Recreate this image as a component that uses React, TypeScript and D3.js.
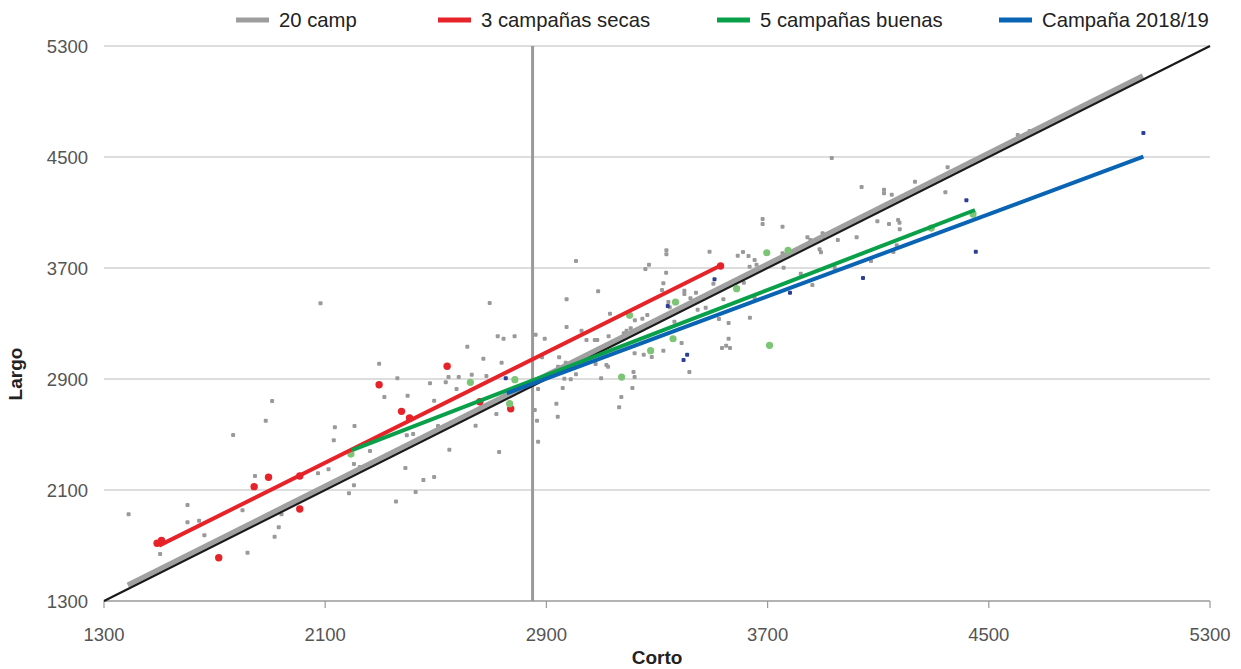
import React from 'react';
import * as d3 from 'd3';

// ---- data (Corto, Largo) ----
const ticks = [1300, 2100, 2900, 3700, 4500, 5300];
const refCorto = 2850;

const seriesNames = ['20 camp', '3 campañas secas', '5 campañas buenas', 'Campaña 2018/19'];
const seriesColors = ['#9d9d9d', '#e52329', '#0aa04a', '#0a64b4'];

const campLine = [[1386, 1415], [5057, 5086]];
const secasLine = [[1499, 1699], [3534, 3722]];
const buenasLine = [[2197, 2388], [4450, 4118]];
const campana1819Line = [[2757, 2797], [5059, 4502]];
const identityLine = [[1300, 1300], [5300, 5300]];

const grayPoints = [
  [1908, 2741], [1885, 2599], [1767, 2496], [2135, 2552], [2131, 2458], [1846, 2201], [2074, 2220], [2112, 2249],
  [1389, 1925], [1602, 1992], [1602, 1867], [1644, 1879], [1663, 1774], [1801, 1954], [1942, 1925], [1932, 1831],
  [1917, 1763], [1819, 1648], [1503, 1639],
  [2614, 3133], [2295, 3010], [2361, 2905], [2546, 2914], [2583, 2914], [2536, 2876], [2479, 2869], [2575, 2828],
  [2314, 2770], [2398, 2780], [2494, 2744], [2206, 2561], [2508, 2561], [2395, 2494], [2418, 2504], [2262, 2381],
  [2549, 2390], [2204, 2287], [2225, 2266], [2390, 2259], [2494, 2194], [2455, 2172], [2204, 2134], [2186, 2076],
  [2427, 2086], [2356, 2018],
  [3007, 3750], [3087, 3532], [2973, 3474], [2695, 3448], [3130, 3371], [3220, 3323], [2973, 3275], [3027, 3248],
  [2724, 3208], [2745, 3190], [2785, 3208], [2861, 3219], [2894, 3190], [3045, 3181], [3075, 3181], [3084, 3181],
  [3125, 3208], [2884, 3056], [2946, 3056], [2672, 3046], [2738, 3017], [2970, 3017], [3219, 3085], [2942, 2989],
  [3078, 3008], [3117, 3001], [3123, 2989], [2630, 2931], [2683, 2922], [3007, 2934], [2965, 2902], [2988, 2898],
  [3098, 2905], [3219, 2914], [3215, 2950], [3211, 2835], [2959, 2835], [2870, 2828], [2936, 2722], [2941, 2628],
  [2858, 2677], [2866, 2599], [2719, 2648], [2644, 2563], [2729, 2374], [2870, 2448], [3171, 2770], [3163, 2696],
  [3682, 4053], [3682, 4017], [3754, 3998], [3954, 3902], [3844, 3921], [3899, 3950], [3888, 3835], [3893, 3813],
  [3490, 3818], [3334, 3828], [3334, 3799], [3592, 3789], [3611, 3815], [3631, 3787], [3653, 3758], [3660, 3724],
  [3635, 3709], [3754, 3806], [3758, 3702], [3271, 3724], [3258, 3693], [3333, 3666], [3820, 3659], [3862, 3577],
  [3323, 3590], [3318, 3541], [3399, 3536], [3399, 3513], [3441, 3522], [3421, 3482], [3540, 3474], [3341, 3455],
  [3346, 3417], [3504, 3587], [3614, 3594], [3653, 3486], [3476, 3414], [3447, 3399], [3265, 3361], [3247, 3335],
  [3363, 3313], [3524, 3332], [3636, 3342], [3559, 3304], [3205, 3265], [3190, 3248], [3180, 3229], [3389, 3159],
  [3559, 3190], [3550, 3140], [3564, 3123], [3535, 3123], [3323, 3104], [3252, 3075], [3281, 3058], [3417, 2950],
  [3932, 4493], [4351, 4426], [4233, 4322], [4040, 4284], [4121, 4264], [4121, 4238], [4149, 4228], [4343, 4246],
  [4097, 4037], [4139, 4017], [4172, 4046], [4177, 4026], [4178, 3979], [3855, 3902], [3900, 3926], [4022, 3921],
  [4167, 3864], [4155, 3815], [4074, 3750], [3943, 3700], [2083, 3446], [4605, 4659], [4648, 4687],
];

const redPoints = [
  [1492, 1716], [1508, 1737], [1715, 1612], [1843, 2124], [1895, 2192], [2008, 2201], [2008, 1963],
  [2541, 2992], [2295, 2859], [2376, 2667], [2405, 2619], [2771, 2686], [2659, 2736], [3530, 3714],
];

const greenPoints = [
  [2193, 2359], [2625, 2876], [2786, 2895], [2767, 2722], [3201, 3359], [3172, 2914], [3697, 3810], [3774, 3828],
  [3588, 3551], [3367, 3455], [3358, 3190], [3277, 3104], [3707, 3143], [4292, 3988], [4443, 4089],
];

const bluePoints = [
  [2753, 2905], [3508, 3619], [3339, 3426], [3781, 3522], [3409, 3075], [3396, 3037], [4419, 4188], [4453, 3818],
  [4045, 3628], [5059, 4673],
];

const FONT = '"Liberation Sans", Arial, Helvetica, sans-serif';

export default function App() {
  const x = d3.scaleLinear().domain([1300, 5300]).range([104, 1210]);
  const y = d3.scaleLinear().domain([1300, 5300]).range([601, 46]);
  const line = d3.line<number[]>().x(d => x(d[0])).y(d => y(d[1]));
  const [x0, x1] = x.range();

  const legendX = [236, 438, 717, 999];

  return (
    <svg width={1241} height={669} style={{ position: 'absolute', left: 0, top: 0, background: '#fff' }}
      fontFamily={FONT}>
      {/* gridlines */}
      {ticks.slice(1).map(t => (
        <line key={'g' + t} x1={x0} x2={x1} y1={y(t)} y2={y(t)} stroke="#d2d2d2" strokeWidth={1.5} />
      ))}
      {/* x axis */}
      <line x1={x0} x2={x1} y1={y(1300)} y2={y(1300)} stroke="#9a9a9a" strokeWidth={1.5} />
      {ticks.map(t => (
        <line key={'t' + t} x1={x(t)} x2={x(t)} y1={y(1300)} y2={y(1300) + 7} stroke="#9a9a9a" strokeWidth={1.2} />
      ))}
      {ticks.map(t => (
        <text key={'xl' + t} x={x(t)} y={640.5} textAnchor="middle" fontSize={18.5} fill="#555">{t}</text>
      ))}
      {ticks.map(t => (
        <text key={'yl' + t} x={88} y={y(t) + 6.5} textAnchor="end" fontSize={18.5} fill="#555">{t}</text>
      ))}
      {/* reference vertical */}
      <line x1={x(refCorto)} x2={x(refCorto)} y1={y(5300)} y2={y(1300)} stroke="#9a9a9a" strokeWidth={3} />

      {/* gray scatter */}
      {grayPoints.map((d, i) => (
        <rect key={'gp' + i} x={x(d[0]) - 2} y={y(d[1]) - 2} width={4} height={4} rx={1} fill="#9a9a9a" />
      ))}
      <path d={line(campLine) || ''} stroke="#a0a0a0" strokeWidth={5} fill="none" />
      <path d={line(identityLine) || ''} stroke="#1a1a1a" strokeWidth={2.2} fill="none" />

      {redPoints.map((d, i) => (
        <circle key={'rp' + i} cx={x(d[0])} cy={y(d[1])} r={3.7} fill="#e52329" />
      ))}
      {greenPoints.map((d, i) => (
        <circle key={'grp' + i} cx={x(d[0])} cy={y(d[1])} r={3.6} fill="#7cc576" />
      ))}
      {bluePoints.map((d, i) => (
        <rect key={'bp' + i} x={x(d[0]) - 2} y={y(d[1]) - 2} width={4} height={4} rx={1} fill="#2b3f94" />
      ))}
      <path d={line(secasLine) || ''} stroke="#e52329" strokeWidth={4} fill="none" />
      <path d={line(buenasLine) || ''} stroke="#0aa04a" strokeWidth={4} fill="none" />
      <path d={line(campana1819Line) || ''} stroke="#0a64b4" strokeWidth={4} fill="none" />

      {/* legend */}
      {seriesNames.map((n, i) => (
        <g key={'lg' + i}>
          <line x1={legendX[i]} x2={legendX[i] + 33} y1={20} y2={20} stroke={seriesColors[i]} strokeWidth={5} />
          <text x={legendX[i] + 43} y={27} fontSize={20.3} fill="#222">{n}</text>
        </g>
      ))}

      {/* axis titles */}
      <text x={(x0 + x1) / 2} y={664} textAnchor="middle" fontSize={19} fontWeight="bold" fill="#222">Corto</text>
      <text transform={`translate(22,374) rotate(-90)`} textAnchor="middle" fontSize={19} fontWeight="bold" fill="#222">Largo</text>
    </svg>
  );
}
